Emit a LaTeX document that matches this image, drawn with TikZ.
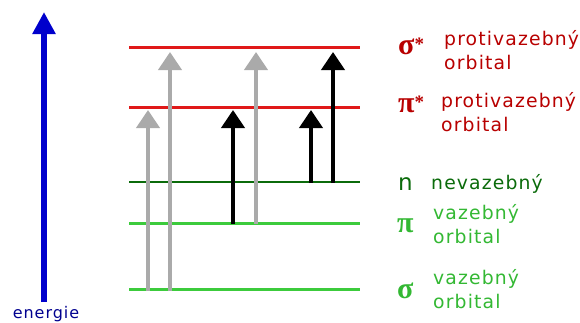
\documentclass[tikz,border=0pt]{standalone}
\usepackage{fontspec}
\setmainfont{DejaVu Sans}
\newfontfamily\grk{Liberation Serif}
\newfontfamily\lbl[LetterSpace=6]{DejaVu Sans}
\usetikzlibrary{arrows.meta}
\definecolor{lred}{HTML}{E01818}
\definecolor{tred}{HTML}{B80000}
\definecolor{dgreen}{HTML}{0B6B0B}
\definecolor{lgreen}{HTML}{3CCB3C}
\definecolor{tgreen}{HTML}{33B833}
\definecolor{agray}{HTML}{AAAAAA}
\definecolor{eblue}{HTML}{0000CC}
\begin{document}
\begin{tikzpicture}[x=1pt,y=-1pt,
  level/.style={line width=3pt},
  trans/.style={line width=4pt,-{Triangle[width=23pt,length=18pt]}},
  txt/.style={font=\lbl\fontsize{18.8}{24}\selectfont,anchor=west,inner sep=0pt,align=left},
  grklbl/.style={font=\grk\bfseries\fontsize{30}{30}\selectfont,inner sep=0pt,anchor=base west}]
\useasboundingbox (0,0) rectangle (580,322);
% energy axis
\coordinate (e0) at (44,302);
\coordinate (e1) at (44,12);
\draw[eblue,line width=6pt,-{Triangle[width=22pt,length=22pt]}] (e0) -- (e1);
\node[font=\lbl\fontsize{16}{16}\selectfont,text=eblue!70!black,anchor=base,inner sep=0pt] (en) at (46,318) {energie};
% levels
\draw[level,lred] (129,47) coordinate (ss0) -- (360,47) coordinate (ss1);
\draw[level,lred] (129,107) coordinate (ps0) -- (360,107) coordinate (ps1);
\draw[line width=2.4pt,dgreen] (129,182) coordinate (n0) -- (360,182) coordinate (n1);
\draw[level,lgreen] (129,223) coordinate (p0) -- (360,223) coordinate (p1);
\draw[level,lgreen] (129,289) coordinate (s0) -- (360,289) coordinate (s1);
% transitions
\coordinate (a1s) at (148,291); \coordinate (a1e) at (148,110);
\coordinate (a2s) at (170,291); \coordinate (a2e) at (170,52);
\coordinate (a3s) at (233,224); \coordinate (a3e) at (233,110);
\coordinate (a4s) at (256,224); \coordinate (a4e) at (256,52);
\coordinate (a5s) at (311,183); \coordinate (a5e) at (311,110);
\coordinate (a6s) at (333,183); \coordinate (a6e) at (333,52);
\draw[trans,agray] (a1s) -- (a1e);
\draw[trans,agray] (a2s) -- (a2e);
\draw[trans,black] (a3s) -- (a3e);
\draw[trans,agray] (a4s) -- (a4e);
\draw[trans,black] (a5s) -- (a5e);
\draw[trans,black] (a6s) -- (a6e);
% labels
\node[grklbl,text=tred] (gss) at (398,54) {σ\raisebox{4pt}{\fontsize{19}{19}\selectfont *}};
\node[txt,text=tred] (tss) at (444,50) {protivazebný\\orbital};
\node[grklbl,text=tred] (gps) at (398,112) {π\raisebox{4pt}{\fontsize{19}{19}\selectfont *}};
\node[txt,text=tred] (tps) at (441,112) {protivazebný\\orbital};
\node[font=\fontsize{23}{23}\selectfont,text=dgreen,anchor=base west,inner sep=0pt] (gn) at (398,190) {n};
\node[font=\lbl\fontsize{18.8}{18.8}\selectfont,text=dgreen,anchor=base west,inner sep=0pt] (tn) at (431,189) {nevazebný};
\node[grklbl,text=tgreen] (gp) at (397,232) {π};
\node[txt,text=tgreen] (tp) at (433,224) {vazebný\\orbital};
\node[grklbl,text=tgreen] (gs) at (397,298) {σ};
\node[txt,text=tgreen] (ts) at (433,289) {vazebný\\orbital};
\end{tikzpicture}
\end{document}
